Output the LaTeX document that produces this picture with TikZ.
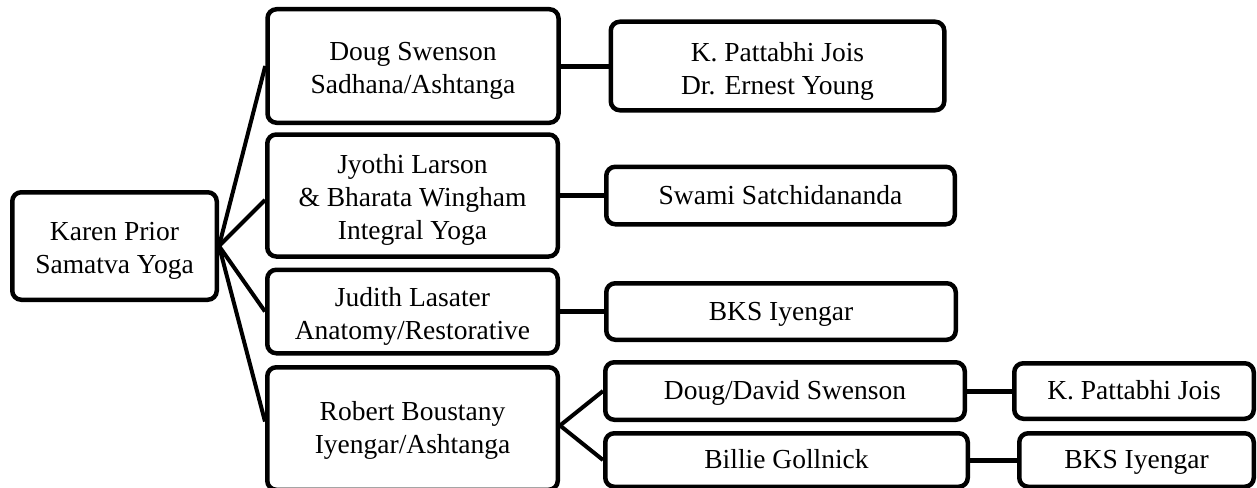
\documentclass[tikz,border=0pt]{standalone}
\usepackage{fontspec}
\setmainfont{Liberation Serif}
\begin{document}
\begin{tikzpicture}[x=1pt,y=-1pt,
  txt/.style={align=center, inner sep=0pt, font=\fontsize{27.5}{33}\selectfont},
  box/.style={draw, line width=4.5pt, rounded corners=9pt, txt, text height=20pt, text depth=3pt},
  lbl/.style={txt, yshift=-5pt},
  link/.style={line width=5pt},
  fan/.style={line width=4pt}]
\useasboundingbox (0,0) rectangle (1257,487);
\clip (0,0) rectangle (1257,487);
\node[box, minimum width=204.5pt, minimum height=107.5pt,
  label={[lbl]center:Karen Prior\\Samatva Yoga}] (A) at (114.5,246) {};
\node[box, minimum width=291pt, minimum height=113.5pt,
  label={[lbl]center:Doug Swenson\\Sadhana/Ashtanga}] (B) at (413,66) {};
\node[box, minimum width=290.5pt, minimum height=122pt,
  label={[lbl, yshift=1pt]center:Jyothi Larson\\\& Bharata Wingham\\Integral Yoga}] (C) at (412.5,195.5) {};
\node[box, minimum width=290.5pt, minimum height=83.5pt,
  label={[lbl]center:Judith Lasater\\Anatomy/Restorative}] (D) at (412.5,311.5) {};
\node[box, minimum width=290.5pt, minimum height=122.5pt,
  label={[lbl, yshift=3pt]center:Robert Boustany\\Iyengar/Ashtanga}] (E) at (412.5,428.5) {};
\node[box, minimum width=333.5pt, minimum height=88.5pt,
  label={[lbl]center:K. Pattabhi Jois\\Dr. Ernest Young}] (F) at (777.5,66) {};
\node[box, minimum width=348.5pt, minimum height=57.5pt] (G) at (780.5,195.5) {Swami Satchidananda};
\node[box, minimum width=349.5pt, minimum height=56.5pt] (H) at (781,311.5) {BKS Iyengar};
\node[box, minimum width=359.5pt, minimum height=57.5pt] (I) at (785,391) {Doug/David Swenson};
\node[box, minimum width=362.5pt, minimum height=53.5pt] (J) at (786.5,460) {Billie Gollnick};
\node[box, minimum width=239.5pt, minimum height=55.5pt] (K) at (1134,391) {K. Pattabhi Jois};
\node[box, minimum width=234.5pt, minimum height=53.5pt] (L) at (1136.5,460) {BKS Iyengar};
\draw[fan] (A.east) -- (B.west);
\draw[fan] (A.east) -- ([yshift=-4.5pt]C.west);
\draw[fan] (A.east) -- (D.west);
\draw[fan] (A.east) -- ([yshift=7pt]E.west);
\draw[fan] ([yshift=3pt]E.east) -- (I.west);
\draw[fan] ([yshift=3pt]E.east) -- (J.west);
\draw[link] (B.east) -- (F.west);
\draw[link] (C.east) -- (G.west);
\draw[link] (D.east) -- (H.west);
\draw[link] (I.east) -- (K.west);
\draw[link] (J.east) -- (L.west);
\end{tikzpicture}
\end{document}
